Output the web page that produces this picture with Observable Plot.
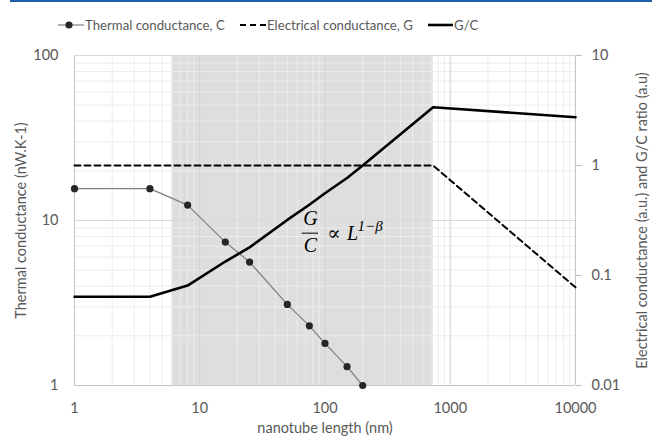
<!DOCTYPE html>
<html><head><meta charset="utf-8">
<script src="https://cdn.jsdelivr.net/npm/d3@7"></script>
<script src="https://cdn.jsdelivr.net/npm/@observablehq/plot@0.6"></script>
<style>
body{margin:0;background:#fff;font-family:Lato, sans-serif;}
#top{height:2px;background:#1f5ea8;margin-left:10px;}
#legend{position:relative;height:43px;color:#595959;font-size:13.2px;}
.item{position:absolute;top:13px;display:flex;align-items:center;height:20px;white-space:nowrap;}
.item svg{display:block;}
#chart svg{overflow:visible;}
</style></head><body>
<div id="top"></div>
<div id="legend"></div>
<div id="chart"></div>
<script>
// ---- data ----
const lengths = [1, 4, 8, 16, 25, 50, 75, 100, 150, 200];
const thermal = [15.6, 15.6, 12.4, 7.4, 5.6, 3.1, 2.3, 1.8, 1.3, 1.0];
const gLengths = [1, 730, 10000];
const electrical = [1, 1, 0.078];
const ratioLengths = [1, 4, 8, 16, 25, 50, 75, 100, 150, 200, 730, 10000];
const ratio = [0.064, 0.064, 0.081, 0.134, 0.18, 0.32, 0.44, 0.56, 0.77, 1.0, 3.39, 2.75];
const shadeRange = [6, 730];
const xTicks = [1, 10, 100, 1000, 10000];
const leftTicks = [1, 10, 100];
const rightTicks = [0.01, 0.1, 1, 10];
const seriesNames = ["Thermal conductance, C", "Electrical conductance, G", "G/C"];
const xLabel = "nanotube length (nm)";
const leftLabel = "Thermal conductance (nW.K-1)";
const rightLabel = "Electrical conductance (a.u.) and G/C ratio (a.u)";

// right axis (0.01..10) mapped onto left axis (1..100)
const toLeft = r => Math.pow(10, (Math.log10(r) + 2) * 2 / 3);
const fromLeft = v => Math.pow(10, Math.log10(v) * 1.5 - 2);

const thermalData = lengths.map((x, i) => ({x, y: thermal[i]}));
const gData = gLengths.map((x, i) => ({x, y: toLeft(electrical[i])}));
const ratioData = ratioLengths.map((x, i) => ({x, y: toLeft(ratio[i])}));

const decades = [1, 10, 100, 1000];
const minorX = decades.flatMap(d => [2,3,4,5,6,7,8,9].map(k => d * k));
const minorY = [1, 10].flatMap(d => [2,3,4,5,6,7,8,9].map(k => d * k));

// annotation G/C ∝ L^(1−β) (data coords, left scale)
const annoX = 76.6;
const annoG = 10.3, annoC = 7.0, annoBar = 8.38;

const serif = "'Liberation Serif', 'DejaVu Serif', serif";

const chart = Plot.plot({
  width: 652,
  height: 393,
  marginTop: 10,
  marginBottom: 53,
  marginLeft: 74,
  marginRight: 77,
  style: {fontFamily: "Lato, sans-serif", fontSize: "14.5px", color: "#595959", background: "transparent"},
  x: {type: "log", domain: [1, 10000]},
  y: {type: "log", domain: [1, 100]},
  marks: [
    Plot.rect([{x1: shadeRange[0], x2: shadeRange[1]}], {x1: "x1", x2: "x2", fill: "#dedede"}),
    Plot.ruleX(minorX, {stroke: "#ececec", strokeWidth: 1}),
    Plot.ruleY(minorY, {stroke: "#ececec", strokeWidth: 1}),
    Plot.ruleX([10, 100, 1000], {stroke: "#d2d2d2", strokeWidth: 1}),
    Plot.ruleY([10, 100], {stroke: "#d9d9d9", strokeWidth: 1}),
    Plot.ruleX([1, 10000], {stroke: "#c4c4c4", strokeWidth: 1}),
    Plot.ruleY([1], {stroke: "#c4c4c4", strokeWidth: 1}),
    Plot.line(thermalData, {x: "x", y: "y", stroke: "#7f7f7f", strokeWidth: 1.2}),
    Plot.dot(thermalData, {x: "x", y: "y", r: 3.6, fill: "#262626", stroke: "none"}),
    Plot.line(gData, {x: "x", y: "y", stroke: "#000", strokeWidth: 2, strokeDasharray: "6,4"}),
    Plot.line(ratioData, {x: "x", y: "y", stroke: "#000", strokeWidth: 2.6}),
    // annotation
    Plot.text(["G"], {x: annoX, y: annoG, fontFamily: serif, fontStyle: "italic", fontSize: 20, fill: "#000"}),
    Plot.text(["C"], {x: annoX, y: annoC, fontFamily: serif, fontStyle: "italic", fontSize: 20, fill: "#000"}),
    Plot.ruleY([annoBar], {x1: annoX * 0.86, x2: annoX * 1.16, stroke: "#000", strokeWidth: 1}),
    Plot.text(["∝"], {x: 104, y: annoBar, textAnchor: "start", fontFamily: serif, fontSize: 20, fill: "#000"}),
    Plot.text(["L"], {x: 150, y: annoBar, textAnchor: "start", fontFamily: serif, fontStyle: "italic", fontSize: 20, fill: "#000"}),
    Plot.text(["1−β"], {x: 182, y: 9.3, textAnchor: "start", fontFamily: serif, fontStyle: "italic", fontSize: 15, fill: "#000"}),
    // axes
    Plot.axisX(xTicks, {tickSize: 0, tickPadding: 17, tickFormat: d => String(d), label: null}),
    Plot.axisY(leftTicks, {anchor: "left", tickSize: 0, tickPadding: 16, tickFormat: d => String(d), label: null}),
    Plot.axisY(rightTicks.map(toLeft), {anchor: "right", tickSize: 6, tickPadding: 10, stroke: "#bfbfbf",
      tickFormat: d => String(+fromLeft(d).toPrecision(1)), label: null}),
    // axis titles
    Plot.text([xLabel], {frameAnchor: "bottom", dy: 43, textAnchor: "middle", lineAnchor: "middle", fill: "#595959", fontSize: 14.5}),
    Plot.text([leftLabel], {frameAnchor: "left", dx: -53, rotate: -90, textAnchor: "middle", lineAnchor: "middle", fill: "#595959", fontSize: 14.5}),
    Plot.text([rightLabel], {frameAnchor: "right", dx: 67, rotate: -90, textAnchor: "middle", lineAnchor: "middle", fill: "#595959", fontSize: 14.5})
  ]
});
document.getElementById("chart").appendChild(chart);

// legend
const legend = document.getElementById("legend");
const swatches = [
  `<svg width="27" height="12"><line x1="0" y1="6" x2="26" y2="6" stroke="#7f7f7f" stroke-width="1.2"/><circle cx="11" cy="6" r="3.6" fill="#262626"/></svg>`,
  `<svg width="27" height="12"><line x1="0" y1="6" x2="26" y2="6" stroke="#000" stroke-width="2" stroke-dasharray="6,4"/></svg>`,
  `<svg width="26" height="12"><line x1="0" y1="6" x2="25" y2="6" stroke="#000" stroke-width="2.6"/></svg>`
];
const lefts = [58, 240, 428];
seriesNames.forEach((name, i) => {
  const d = document.createElement("div");
  d.className = "item";
  d.style.left = lefts[i] + "px";
  d.innerHTML = swatches[i] + `<span>${name}</span>`;
  legend.appendChild(d);
});
</script>
</body></html>
